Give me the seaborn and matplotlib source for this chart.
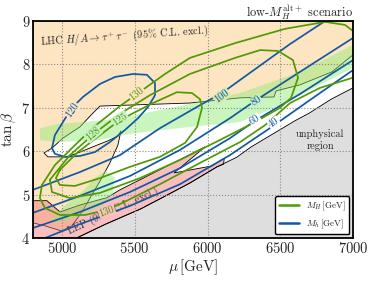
"""
Plano (mu, tan beta) - cenario low-MH alt+
"""
import matplotlib

matplotlib.use("Agg")
import matplotlib.pyplot as plt
from matplotlib.lines import Line2D
import seaborn as sns

# limites da regiao nao fisica (mu [GeV], tan beta)
unphys_mu = [5100, 5300, 5540, 5700, 5880, 6065, 6200, 6300, 6450, 6600, 6700, 6850, 7000]
unphys_tb = [4.00, 4.32, 4.67, 4.95, 5.27, 5.64, 5.86, 6.10, 6.40, 6.70, 6.88, 7.20, 7.46]

# regiao excluida pelo LHC (H/A -> tau tau)
lhc_mu = [4800, 7000, 7000, 6856, 6636, 6471, 6457, 6223, 5879, 5261, 5213, 5123,
          5006, 4931, 4876, 4903, 5034, 5123, 5226, 5316, 5384, 5405, 5384, 5329,
          5261, 5192, 5137, 5068, 4999, 4883, 4800]
lhc_tb = [9.00, 9.00, 8.22, 7.83, 7.53, 7.39, 7.25, 7.23, 7.11, 7.04, 6.88, 6.56,
          6.30, 6.07, 5.96, 5.87, 5.87, 5.98, 6.12, 6.24, 6.35, 6.47, 6.14, 5.73,
          5.31, 4.92, 4.60, 4.28, 4.16, 4.28, 4.35]

# regiao excluida pelo LEP
lep_mu = [4800, 5100, 5300, 5540, 5700, 5880, 6065, 6110, 6115, 6030, 5770, 5983,
          5700, 5398, 5309, 5123, 4986, 4931, 4896, 4800]
lep_tb = [4.00, 4.00, 4.32, 4.67, 4.95, 5.27, 5.64, 5.70, 5.84, 5.66, 5.50, 6.10,
          5.62, 5.11, 4.93, 4.76, 4.60, 4.76, 4.86, 4.86]

# faixa verde (compatibilidade com o sinal)
band_mu = [4848, 4965, 5261, 5467, 5879, 6223, 6636, 7000, 7000, 6636, 6429, 6223,
           5879, 5467, 5261, 4965, 4848]
band_tb = [6.53, 6.63, 6.70, 6.81, 7.09, 7.34, 7.83, 8.45, 7.92, 7.29, 6.95, 6.67,
           6.56, 6.40, 6.26, 6.21, 6.26]
blob_mu = [4930, 5020, 5150, 5230, 5300, 5360, 5350, 5280, 5150, 5040, 4950]
blob_tb = [4.45, 4.75, 5.10, 5.40, 5.55, 5.40, 5.00, 4.75, 4.55, 4.40, 4.35]

# contornos de M_h
mh_levels = ["120", "100", "80", "60", "40"]
mh_mu = {
    "120": [4931, 4951, 5006, 5068, 5144, 5261, 5364, 5488, 5584, 5639, 5639, 5591,
            5522, 5433, 5329, 5226, 5123, 5020, 4951, 4931],
    "100": [4800, 5123, 5398, 5673, 5948, 6099, 6223, 6567, 6808],
    "80": [4800, 5123, 5467, 5811, 6154, 6326, 6636, 7000],
    "60": [4800, 5123, 5467, 5811, 6154, 6326, 6636, 7000],
    "40": [4883, 5123, 5467, 5811, 6154, 6450, 6704, 7000],
}
mh_tb = {
    "120": [6.07, 6.37, 6.67, 7.00, 7.25, 7.55, 7.71, 7.78, 7.76, 7.57, 7.29, 7.02,
            6.76, 6.49, 6.21, 5.98, 5.89, 5.87, 5.94, 6.07],
    "100": [5.11, 5.52, 5.91, 6.53, 7.06, 7.34, 7.64, 8.47, 9.00],
    "80": [4.58, 4.97, 5.43, 6.03, 6.76, 7.16, 7.83, 8.61],
    "60": [4.23, 4.60, 5.06, 5.61, 6.30, 6.70, 7.32, 8.10],
    "40": [4.00, 4.32, 4.74, 5.24, 5.91, 6.58, 7.18, 7.87],
}

# contornos de M_H
mH_levels = ["130", "128", "125"]
mH_mu = {
    "130": [4862, 4951, 5089, 5226, 5398, 5515, 5708, 5879, 6189, 6533, 6808, 6945,
            7034, 7034, 6773, 6567, 6395, 6223, 5948, 5673, 5398, 5309, 5158, 4986,
            4883, 4848, 4862],
    "128": [4917, 5054, 5226, 5398, 5604, 5879, 6189, 6361, 6484, 6587, 6622, 6574,
            6498, 6326, 6086, 5811, 5536, 5261, 5054, 4931, 4917],
    "125": [4986, 5109, 5226, 5398, 5625, 5790, 5893, 5948, 5962, 5928, 5845, 5673,
            5467, 5261, 5089, 4986, 4958, 4986],
}
mH_tb = {
    "130": [5.22, 5.68, 6.14, 6.58, 7.04, 7.32, 7.78, 8.15, 8.49, 8.82, 8.98, 8.91,
            8.68, 7.73, 7.46, 7.11, 6.60, 6.21, 5.73, 5.24, 4.78, 4.65, 4.53, 4.53,
            4.69, 4.92, 5.22],
    "128": [5.34, 5.91, 6.42, 6.86, 7.29, 7.78, 8.15, 8.33, 8.31, 8.10, 7.69, 7.23,
            7.00, 6.67, 6.26, 5.80, 5.38, 5.04, 4.92, 5.06, 5.34],
    "125": [5.57, 5.98, 6.28, 6.72, 7.11, 7.36, 7.34, 7.20, 7.00, 6.56, 6.19, 5.87,
            5.64, 5.38, 5.20, 5.22, 5.38, 5.57],
}

# rotulos dos contornos: (texto, mu, tan beta, rotacao, familia, fundo)
contour_labels = [
    ("120", 5068, 6.95, 55, "mh", "#fee5c2"),
    ("100", 6099, 7.27, 36, "mh", "#d6ecb0"),
    ("80", 6333, 7.16, 33, "mh", "#c8f2c2"),
    ("60", 6326, 6.72, 31, "mh", "#ffffff"),
    ("40", 6457, 6.65, 33, "mh", "#ffffff"),
    ("130", 5515, 7.32, 38, "mH", "#fee5c2"),
    ("125", 5398, 6.74, 34, "mH", "#c8f2c2"),
    ("128", 5213, 6.40, 40, "mH", "#c8f2c2"),
    ("130", 5309, 4.60, 20, "mH", "#f9c0c0"),
]

x_ticks = [5000, 5500, 6000, 6500, 7000]
y_ticks = [4, 5, 6, 7, 8, 9]

BLUE = "#1259a3"
GREEN = "#4f9a05"
ORANGE = "#fee5c2"
LIGHT_GREEN = (0.55, 0.92, 0.45, 0.45)

sns.set_theme(style="white")
plt.rcParams["font.family"] = "serif"
plt.rcParams["font.serif"] = ["cmr10"]
plt.rcParams["mathtext.fontset"] = "cm"
plt.rcParams["axes.formatter.use_mathtext"] = True

fig = plt.figure(figsize=(3.74, 2.82), dpi=100)
ax = fig.add_axes([0.088, 0.156, 0.856, 0.7695])

# regioes preenchidas
ax.fill(unphys_mu + [7000, 5100], unphys_tb + [4, 4], facecolor="#dedede",
        edgecolor="none", zorder=1)
ax.fill(lhc_mu, lhc_tb, facecolor=ORANGE, edgecolor="black", lw=0.6, zorder=1.1)
ax.fill(lep_mu, lep_tb, facecolor=(0.95, 0.45, 0.45, 0.45), edgecolor="black",
        lw=0.6, zorder=1.2)
ax.fill(band_mu, band_tb, facecolor=LIGHT_GREEN, edgecolor="none", zorder=1.3)
ax.fill(blob_mu, blob_tb, facecolor=LIGHT_GREEN, edgecolor="none", zorder=1.3)
ax.plot(unphys_mu, unphys_tb, color="black", lw=0.6, zorder=1.4)

# contornos
for lev in mh_levels:
    sns.lineplot(x=mh_mu[lev], y=mh_tb[lev], sort=False, estimator=None,
                 color=BLUE, lw=1.25, ax=ax, zorder=3)
for lev in mH_levels:
    sns.lineplot(x=mH_mu[lev], y=mH_tb[lev], sort=False, estimator=None,
                 color=GREEN, lw=1.25, ax=ax, zorder=3)

for txt, mu, tb, rot, fam, bg in contour_labels:
    ax.text(mu, tb, txt, rotation=rot, ha="center", va="center", fontsize=7.5,
            color=BLUE if fam == "mh" else GREEN, zorder=4,
            bbox=dict(facecolor=bg, edgecolor="none", pad=0.5))

ax.text(4850, 8.45, r"LHC $H/A \to \tau^+\tau^-$ (95% C.L. excl.)", fontsize=7.5,
        rotation=4, zorder=4)
ax.text(5030, 4.10, "LEP (95% C.L. excl.)", fontsize=7.5, rotation=25,
        color="#333333", zorder=2.6)
ax.text(6773, 6.26, "unphysical\nregion", ha="center", va="center", fontsize=7.5,
        linespacing=1.3, zorder=4)

ax.set_xlim(4800, 7000)
ax.set_ylim(4, 9)
ax.set_xticks(x_ticks)
ax.set_yticks(y_ticks)
ax.tick_params(labelsize=10.5, length=0, pad=2)
ax.set_axisbelow(False)
ax.grid(True, ls=":", color="#8a8a8a", lw=0.8)
for sp in ax.spines.values():
    sp.set_color("black")
    sp.set_linewidth(1.3)
    sp.set_zorder(5)

ax.set_xlabel(r"$\mu\,$[GeV]", fontsize=11, labelpad=1)
ax.set_ylabel(r"$\tan\beta$", fontsize=11, labelpad=2)
ax.set_title(r"low-$M_H^{\rm alt+}$ scenario", loc="right", fontsize=9, pad=3)

handles = [
    Line2D([], [], color=GREEN, lw=1.8, label=r"$M_H\,$[GeV]"),
    Line2D([], [], color=BLUE, lw=1.8, label=r"$M_h\,$[GeV]"),
]
leg = ax.legend(handles=handles, loc="lower right", fontsize=6.5, frameon=True,
                fancybox=True, framealpha=1, edgecolor="black",
                borderaxespad=0.4, handlelength=2.2)
leg.set_zorder(6)

fig.savefig("out.png", dpi=100)
